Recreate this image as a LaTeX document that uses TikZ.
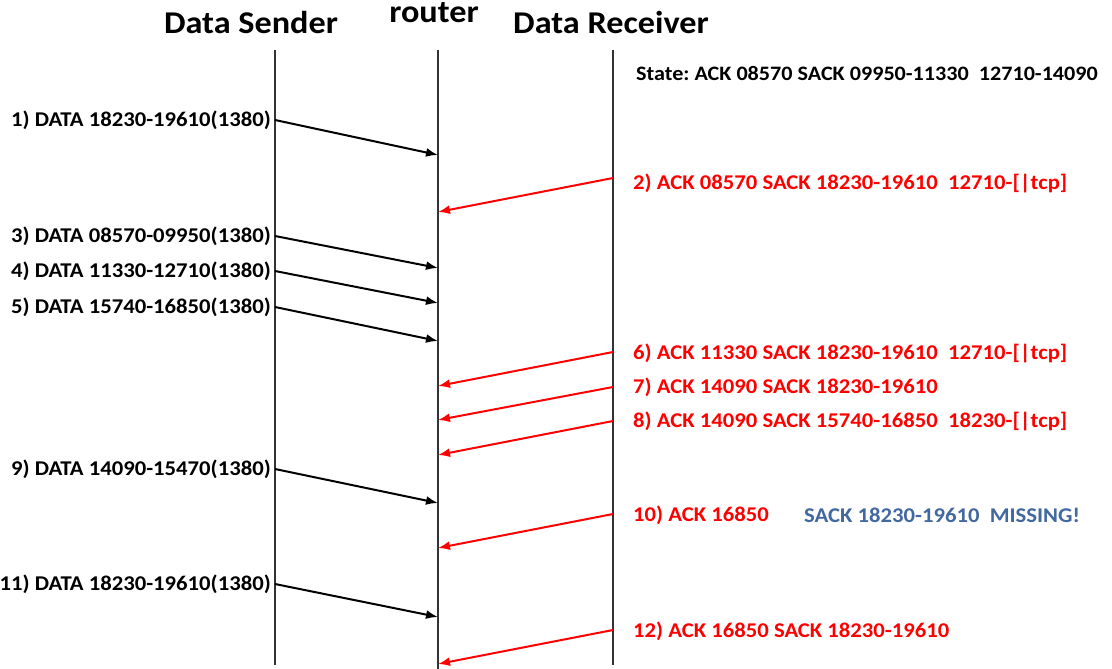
\documentclass[tikz,border=0pt]{standalone}
\usepackage{fontspec}
\setmainfont{Carlito}[FakeStretch=1.08]
\usetikzlibrary{arrows.meta}
\definecolor{ackred}{RGB}{255,0,0}
\definecolor{noteblue}{RGB}{66,104,160}
\frenchspacing
\begin{document}
\begin{tikzpicture}[x=1pt,y=-1pt,
  life/.style={draw=black!80,line width=1.1pt},
  msg/.style={line width=2pt,-{Latex[length=12pt,width=9pt]}},
  datamsg/.style={msg,draw=black},
  ackmsg/.style={msg,draw=ackred},
  title/.style={font=\fontsize{31.7}{34}\selectfont\bfseries,inner sep=0pt},
  lab/.style={font=\fontsize{21}{24}\selectfont\bfseries,inner sep=0pt},
  datalab/.style={lab,anchor=east,text=black},
  acklab/.style={lab,anchor=west,text=ackred},
  statelab/.style={font=\fontsize{20.5}{22}\selectfont\bfseries,inner sep=0pt,anchor=west},
  notelab/.style={lab,anchor=west,text=noteblue}]
\useasboundingbox (0,0) rectangle (1112,669);

% titles
\node[title] (tS) at (251,22) {Data Sender};
\node[title] (tR) at (434,13) {router};
\node[title] (tD) at (611,22) {Data Receiver};

% lifelines
\coordinate (sTop) at (275,50); \coordinate (sBot) at (275,665);
\coordinate (rTop) at (438,50); \coordinate (rBot) at (438,669);
\coordinate (dTop) at (613,50); \coordinate (dBot) at (613,665);
\draw[life] (sTop) -- (sBot);
\draw[life] (rTop) -- (rBot);
\draw[life] (dTop) -- (dBot);

\node[statelab] (state) at (636,73) {State: ACK 08570 SACK 09950-11330\ \ 12710-14090};

% data messages sender -> router
\foreach \n/\ys/\ye/\txt in {
  1/120/155/{1) DATA 18230-19610(1380)},
  3/236/268/{3) DATA 08570-09950(1380)},
  4/271/303/{4) DATA 11330-12710(1380)},
  5/307/341/{5) DATA 15740-16850(1380)},
  9/469/503/{9) DATA 14090-15470(1380)},
  11/584/617/{11) DATA 18230-19610(1380)}}{
  \coordinate (d\n a) at (275,\ys);
  \coordinate (d\n b) at (438,\ye);
  \node[datalab] (dl\n) at (271,\ys) {\txt};
  \draw[datamsg] (d\n a) -- (d\n b);
}

% ack messages receiver -> router
\foreach \n/\ys/\ye/\ly/\txt in {
  2/178/212/183/{2) ACK 08570 SACK 18230-19610\ \ 12710-[|tcp]},
  6/352/386/353/{6) ACK 11330 SACK 18230-19610\ \ 12710-[|tcp]},
  7/387/420/387/{7) ACK 14090 SACK 18230-19610},
  8/421/455/421/{8) ACK 14090 SACK 15740-16850\ \ 18230-[|tcp]},
  10/514/548/515/{10) ACK 16850},
  12/630/664/631/{12) ACK 16850 SACK 18230-19610}}{
  \coordinate (a\n a) at (613,\ys);
  \coordinate (a\n b) at (438,\ye);
  \node[acklab] (al\n) at (633,\ly) {\txt};
  \draw[ackmsg] (a\n a) -- (a\n b);
}

\node[notelab] (note) at (804,515) {SACK 18230-19610\ \ MISSING!};
\end{tikzpicture}
\end{document}
